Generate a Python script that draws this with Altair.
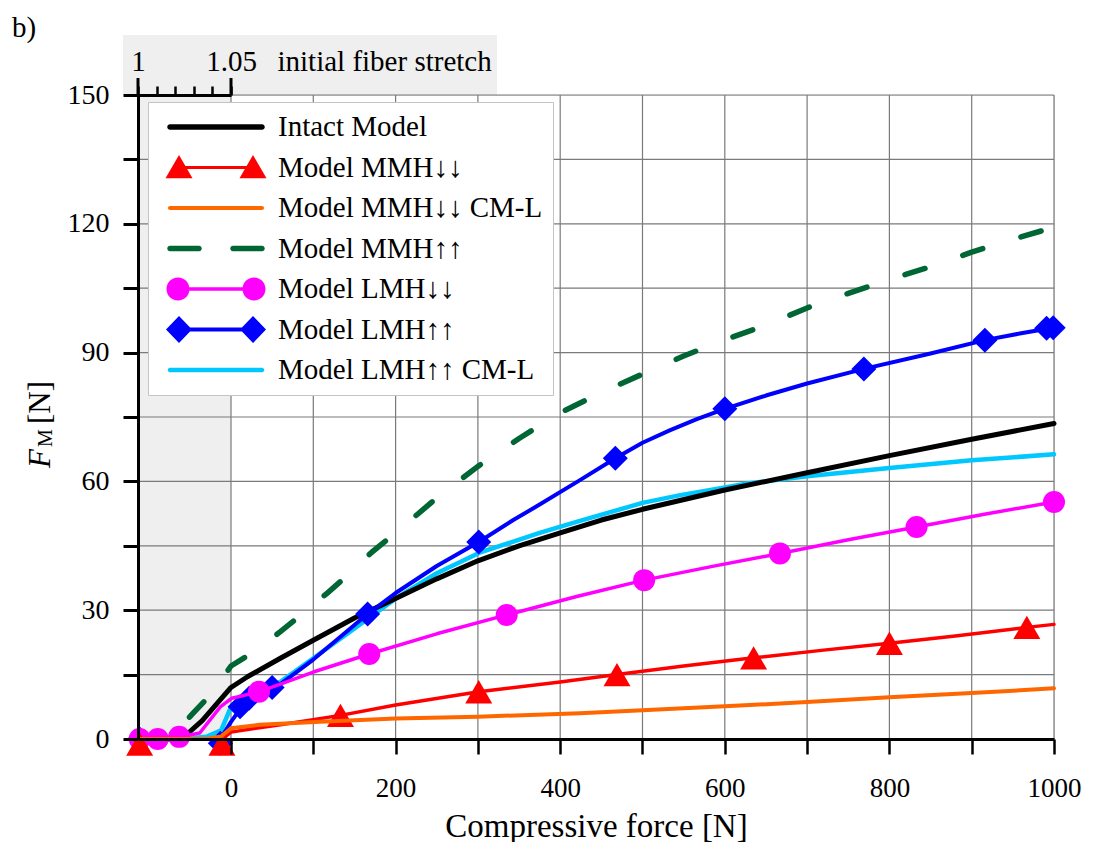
import altair as alt
import pandas as pd

FONT = "Liberation Serif"

# ---------------- data ----------------
series_names = ["Intact Model", "Model MMH↓↓", "Model MMH↓↓ CM-L", "Model MMH↑↑",
                "Model LMH↓↓", "Model LMH↑↑", "Model LMH↑↑ CM-L"]
series_colors = ["#000000", "#ff0000", "#ff6600", "#006633", "#ff00ff", "#0000ff", "#00c8ff"]

intact_x = [-113, -60, -35, 0, 20, 60, 100, 150, 200, 250, 300, 350, 400, 450, 500, 600, 700, 800, 900, 1000]
intact_y = [0, 0, 4.3, 12, 14.5, 18.8, 23, 28.2, 32.7, 37.3, 41.5, 45, 48, 51, 53.5, 58, 62, 66, 69.8, 73.5]

mmh_dd_x = [-113, -11, 0, 30, 60, 133, 200, 301, 400, 469, 550, 635, 720, 800, 880, 967, 1000]
mmh_dd_y = [0, 0, 1.6, 2.5, 3.3, 5.5, 7.9, 11, 13.3, 15, 17, 18.9, 20.7, 22.3, 24, 26, 26.7]
mmh_dd_mx = [-111, -11, 133, 301, 469, 635, 800, 967]
mmh_dd_my = [-1.2, -1.2, 5.5, 11, 15, 18.9, 22.3, 26]

mmh_dd_cml_x = [-113, -30, -12, 0, 35, 108, 200, 300, 424, 500, 600, 700, 800, 900, 1000]
mmh_dd_cml_y = [0, 0, 0.6, 2.5, 3.3, 4.0, 4.8, 5.2, 6.0, 6.7, 7.6, 8.6, 9.7, 10.7, 11.8]

mmh_uu_x = [-113, -75, -46, -23, 0, 30, 60, 86, 117, 142, 171, 200, 254, 300, 350, 400, 450,
            500, 550, 600, 650, 700, 750, 800, 850, 900, 950, 1000]
mmh_uu_y = [0, 0, 6, 10.7, 17, 20.6, 25, 29, 34, 38.2, 43.5, 48, 56.8, 63.5, 70, 76, 80.7,
            85, 89.2, 93, 96.4, 100.4, 103.8, 107, 110, 113.4, 116.4, 119.2]

lmh_dd_x = [-113, -62, -38, -13, 1, 34, 100, 168, 250, 335, 420, 502, 585, 667, 750, 833, 917, 1000]
lmh_dd_y = [0, 0.5, 1.4, 7.5, 9.5, 11, 15.6, 19.8, 24.5, 28.9, 33.2, 37, 40.2, 43.2, 46.4, 49.4, 52.4, 55.2]
lmh_dd_mx = [-111, -89, -63, 34, 168, 335, 502, 667, 833, 1000]
lmh_dd_my = [0, 0, 0.5, 11, 19.8, 28.9, 37, 43.2, 49.4, 55.2]

lmh_uu_x = [-113, -13, 0, 15, 23, 51, 60, 100, 166, 200, 250, 301, 343, 375, 424, 467, 500,
            533, 566, 600, 650, 700, 769, 850, 916, 960, 999]
lmh_uu_y = [0, 0, 4, 8, 9.8, 12, 12.8, 18.5, 29.1, 34, 40.3, 45.9, 51, 54.6, 60.3, 65.4, 69.0,
            71.9, 74.5, 76.9, 80, 82.8, 86.2, 89.8, 92.9, 94.5, 95.8]
lmh_uu_mx = [-111, -13, 11, 22, 50, 166, 301, 467, 600, 769, 916, 991, 999]
lmh_uu_my = [0, -1, 7.5, 9.5, 12, 29.1, 45.9, 65.4, 76.9, 86.2, 92.9, 95.7, 95.8]

lmh_uu_cml_x = [-113, -60, -30, -12, 0, 10, 30, 60, 100, 169, 202, 250, 302, 375, 424, 500,
                546, 600, 627, 700, 800, 900, 1000]
lmh_uu_cml_y = [0, 0, 0.5, 2, 7.5, 9.5, 11, 13.3, 18.8, 28.4, 33, 38.6, 43.4, 48, 50.8, 55,
                56.8, 58.6, 59.5, 61.2, 63.1, 64.9, 66.3]

x_ticks = list(range(0, 1001, 100))
y_ticks = list(range(0, 151, 15))
x_grid = list(range(0, 1001, 100))
y_grid = list(range(15, 151, 15))
stretch_ticks = [1.00, 1.01, 1.02, 1.03, 1.04, 1.05]
stretch_major = [1.00, 1.05]

# ---------------- scales / axes ----------------
xs = alt.Scale(domain=[-113, 1000], nice=False, zero=False)
ys = alt.Scale(domain=[0, 150], nice=False, zero=False)
sx = alt.Scale(domain=[1.0, 1.05], range=[0, 93], nice=False, zero=False)

x_axis = alt.Axis(values=x_ticks, labelExpr="datum.value % 200 == 0 ? datum.label : ''",
                  format="d", tickSize=15, tickWidth=2.5, tickColor="black",
                  domainColor="black", domainWidth=3, labelFont=FONT, labelFontSize=27,
                  labelColor="black", labelPadding=21, labelFlush=False, labelOverlap=False,
                  title="Compressive force [N]", titleFont=FONT, titleFontSize=33,
                  titleFontWeight="normal", titleColor="black", titlePadding=9,
                  grid=False, zindex=1)
y_axis = alt.Axis(values=y_ticks, labelExpr="datum.value % 30 == 0 ? datum.label : ''",
                  format="d", tickSize=15, tickWidth=3, tickColor="black",
                  domainColor="black", domainWidth=3, labelFont=FONT, labelFontSize=28,
                  labelColor="black", labelPadding=14, labelFlush=False, labelOverlap=False,
                  title=None, grid=False, zindex=1)
top_axis = alt.Axis(orient="top", values=stretch_ticks,
                    labelExpr="datum.value < 1.001 ? '1' : (datum.value > 1.049 ? '1.05' : '')",
                    tickSize=9, tickWidth=2.5, tickColor="black", domainColor="black",
                    domainWidth=3, labelFont=FONT, labelFontSize=29, labelColor="black",
                    labelPadding=10, labelFlush=False, labelOverlap=False,
                    title="initial fiber stretch", titleFont=FONT, titleFontSize=29,
                    titleFontWeight="normal", titleColor="black", titleX=139, titleY=-25,
                    titleAlign="left", titleBaseline="alphabetic", titleAngle=0,
                    grid=False, zindex=2)


def XY(df):
    return dict(x=alt.X("x:Q", scale=xs, axis=x_axis), y=alt.Y("y:Q", scale=ys, axis=y_axis))


def line_layer(xv, yv, color, width, dash=None):
    df = pd.DataFrame({"x": xv, "y": yv})
    kw = dict(color=color, strokeWidth=width, strokeCap="round", strokeJoin="round")
    if dash:
        kw["strokeDash"] = dash
    return alt.Chart(df).mark_line(**kw).encode(**XY(df))


def marker_layer(xv, yv, color, shape, size):
    df = pd.DataFrame({"x": xv, "y": yv})
    return alt.Chart(df).mark_point(shape=shape, filled=True, size=size, color=color,
                                    opacity=1, strokeWidth=0).encode(**XY(df))


# gridlines
vgrid = alt.Chart(pd.DataFrame({"x": x_grid})).mark_rule(color="#7a7a7a", strokeWidth=1.2).encode(
    x=alt.X("x:Q", scale=xs, axis=x_axis))
hgrid = alt.Chart(pd.DataFrame({"y": y_grid})).mark_rule(color="#7a7a7a", strokeWidth=1.2).encode(
    y=alt.Y("y:Q", scale=ys, axis=y_axis))


# ---------------- legend symbols (custom paths) ----------------
def f(v):
    return f"{v:.3f}"


def rrect(x0, x1, h):
    return (f"M{f(x0)},{f(-h)} L{f(x1)},{f(-h)} A{f(h)},{f(h)} 0 0 1 {f(x1)},{f(h)} "
            f"L{f(x0)},{f(h)} A{f(h)},{f(h)} 0 0 1 {f(x0)},{f(-h)} Z")


def rect(x0, x1, h):
    return f"M{f(x0)},{f(-h)} L{f(x1)},{f(-h)} L{f(x1)},{f(h)} L{f(x0)},{f(h)} Z"


def tri(c):
    return f"M{f(c)},-0.250 L{f(c + 0.27)},0.215 L{f(c - 0.27)},0.215 Z"


def circ(c, r):
    return (f"M{f(c + r)},0 A{f(r)},{f(r)} 0 1 1 {f(c - r)},0 "
            f"A{f(r)},{f(r)} 0 1 1 {f(c + r)},0 Z")


def dia(c):
    return f"M{f(c)},-0.270 L{f(c + 0.26)},0 L{f(c)},0.270 L{f(c - 0.26)},0 Z"


legend_paths = [
    rrect(-0.92, 0.92, 0.055),
    rect(-0.74, 0.74, 0.032) + " " + tri(-0.74) + " " + tri(0.74),
    rrect(-0.92, 0.92, 0.04),
    rrect(-0.92, -0.34, 0.055) + " " + rrect(0.34, 0.92, 0.055),
    rect(-0.76, 0.76, 0.035) + " " + circ(-0.76, 0.23) + " " + circ(0.76, 0.23),
    rect(-0.74, 0.74, 0.04) + " " + dia(-0.74) + " " + dia(0.74),
    rrect(-0.92, 0.92, 0.045),
]

leg = dict(title=None, orient="none", legendX=10, legendY=7, direction="vertical",
           symbolSize=10000, symbolStrokeWidth=0, clipHeight=30, rowPadding=10.5,
           padding=10, symbolOffset=8, labelOffset=12, labelFont=FONT, labelFontSize=29,
           labelColor="black", labelLimit=800, labelBaseline="middle",
           fillColor="white", strokeColor="#c4c4c4", cornerRadius=0)

legend_df = pd.DataFrame({"series": series_names, "x": [5000] * 7, "y": [0] * 7})
legend_layer = alt.Chart(legend_df).mark_point(filled=True, opacity=1, clip=True).encode(
    x=alt.X("x:Q", scale=xs, axis=x_axis),
    y=alt.Y("y:Q", scale=ys, axis=y_axis),
    color=alt.Color("series:N", scale=alt.Scale(domain=series_names, range=series_colors),
                    legend=alt.Legend(**leg)),
    shape=alt.Shape("series:N", scale=alt.Scale(domain=series_names, range=legend_paths),
                    legend=alt.Legend(**leg)),
)

# ---------------- texts ----------------
def label_text(txt, x, y, size, style="normal", angle=0, align="left"):
    return alt.Chart(pd.DataFrame({"t": [txt]})).mark_text(
        font=FONT, fontSize=size, fontStyle=style, angle=angle, align=align,
        baseline="alphabetic", color="black").encode(
        text="t:N", x=alt.value(x), y=alt.value(y))


panel_label = label_text("b)", -126, -58, 29)
ytitle_F = label_text("F", -88, 373, 31, style="italic", angle=270)
ytitle_M = label_text("M", -86, 352, 20, angle=270)
ytitle_N = label_text("[N]", -88, 329, 31, angle=270)

data_layer = alt.layer(
    vgrid, hgrid,
    line_layer(mmh_uu_x, mmh_uu_y, "#006633", 5.5, dash=[21, 40]),
    line_layer(lmh_uu_cml_x, lmh_uu_cml_y, "#00c8ff", 4.5),
    line_layer(intact_x, intact_y, "#000000", 5),
    line_layer(lmh_uu_x, lmh_uu_y, "#0000ff", 4),
    marker_layer(lmh_uu_mx, lmh_uu_my, "#0000ff", "diamond", 625),
    line_layer(lmh_dd_x, lmh_dd_y, "#ff00ff", 3.5),
    marker_layer(lmh_dd_mx, lmh_dd_my, "#ff00ff", "circle", 484),
    line_layer(mmh_dd_x, mmh_dd_y, "#ff0000", 3.5),
    marker_layer(mmh_dd_mx, mmh_dd_my, "#ff0000", "triangle-up", 729),
    line_layer(mmh_dd_cml_x, mmh_dd_cml_y, "#ff6600", 4),
    legend_layer,
    panel_label, ytitle_F, ytitle_M, ytitle_N,
)

# ---------------- stretch (pre-compression) region ----------------
gray_df = pd.DataFrame({"s0": [stretch_major[0]], "s1": [stretch_major[1]], "y0": [0], "y1": [150]})
gray_rect = alt.Chart(gray_df).mark_rect(color="#efefef").encode(
    x=alt.X("s0:Q", scale=sx, axis=top_axis), x2="s1:Q",
    y=alt.Y("y0:Q", scale=ys, axis=y_axis), y2="y1:Q")
top_box = alt.Chart(pd.DataFrame({"a": [0]})).mark_rect(color="#efefef").encode(
    x=alt.value(-15), x2=alt.value(359), y=alt.value(-60), y2=alt.value(0))
major_ticks = alt.Chart(pd.DataFrame({"s": stretch_major})).mark_rule(
    color="black", strokeWidth=3).encode(
    x=alt.X("s:Q", scale=sx, axis=top_axis), y=alt.value(-17), y2=alt.value(0))

stretch_layer = alt.layer(top_box, gray_rect, major_ticks)

chart = alt.layer(stretch_layer, data_layer).resolve_scale(x="independent").properties(
    width=916, height=644,
    autosize=alt.AutoSizeParams(type="none"),
    padding={"left": 130, "top": 87, "right": 40, "bottom": 103},
).configure_view(stroke=None).configure(background="white")

chart.save("out.html", embed_options={"renderer": "svg", "actions": False})
